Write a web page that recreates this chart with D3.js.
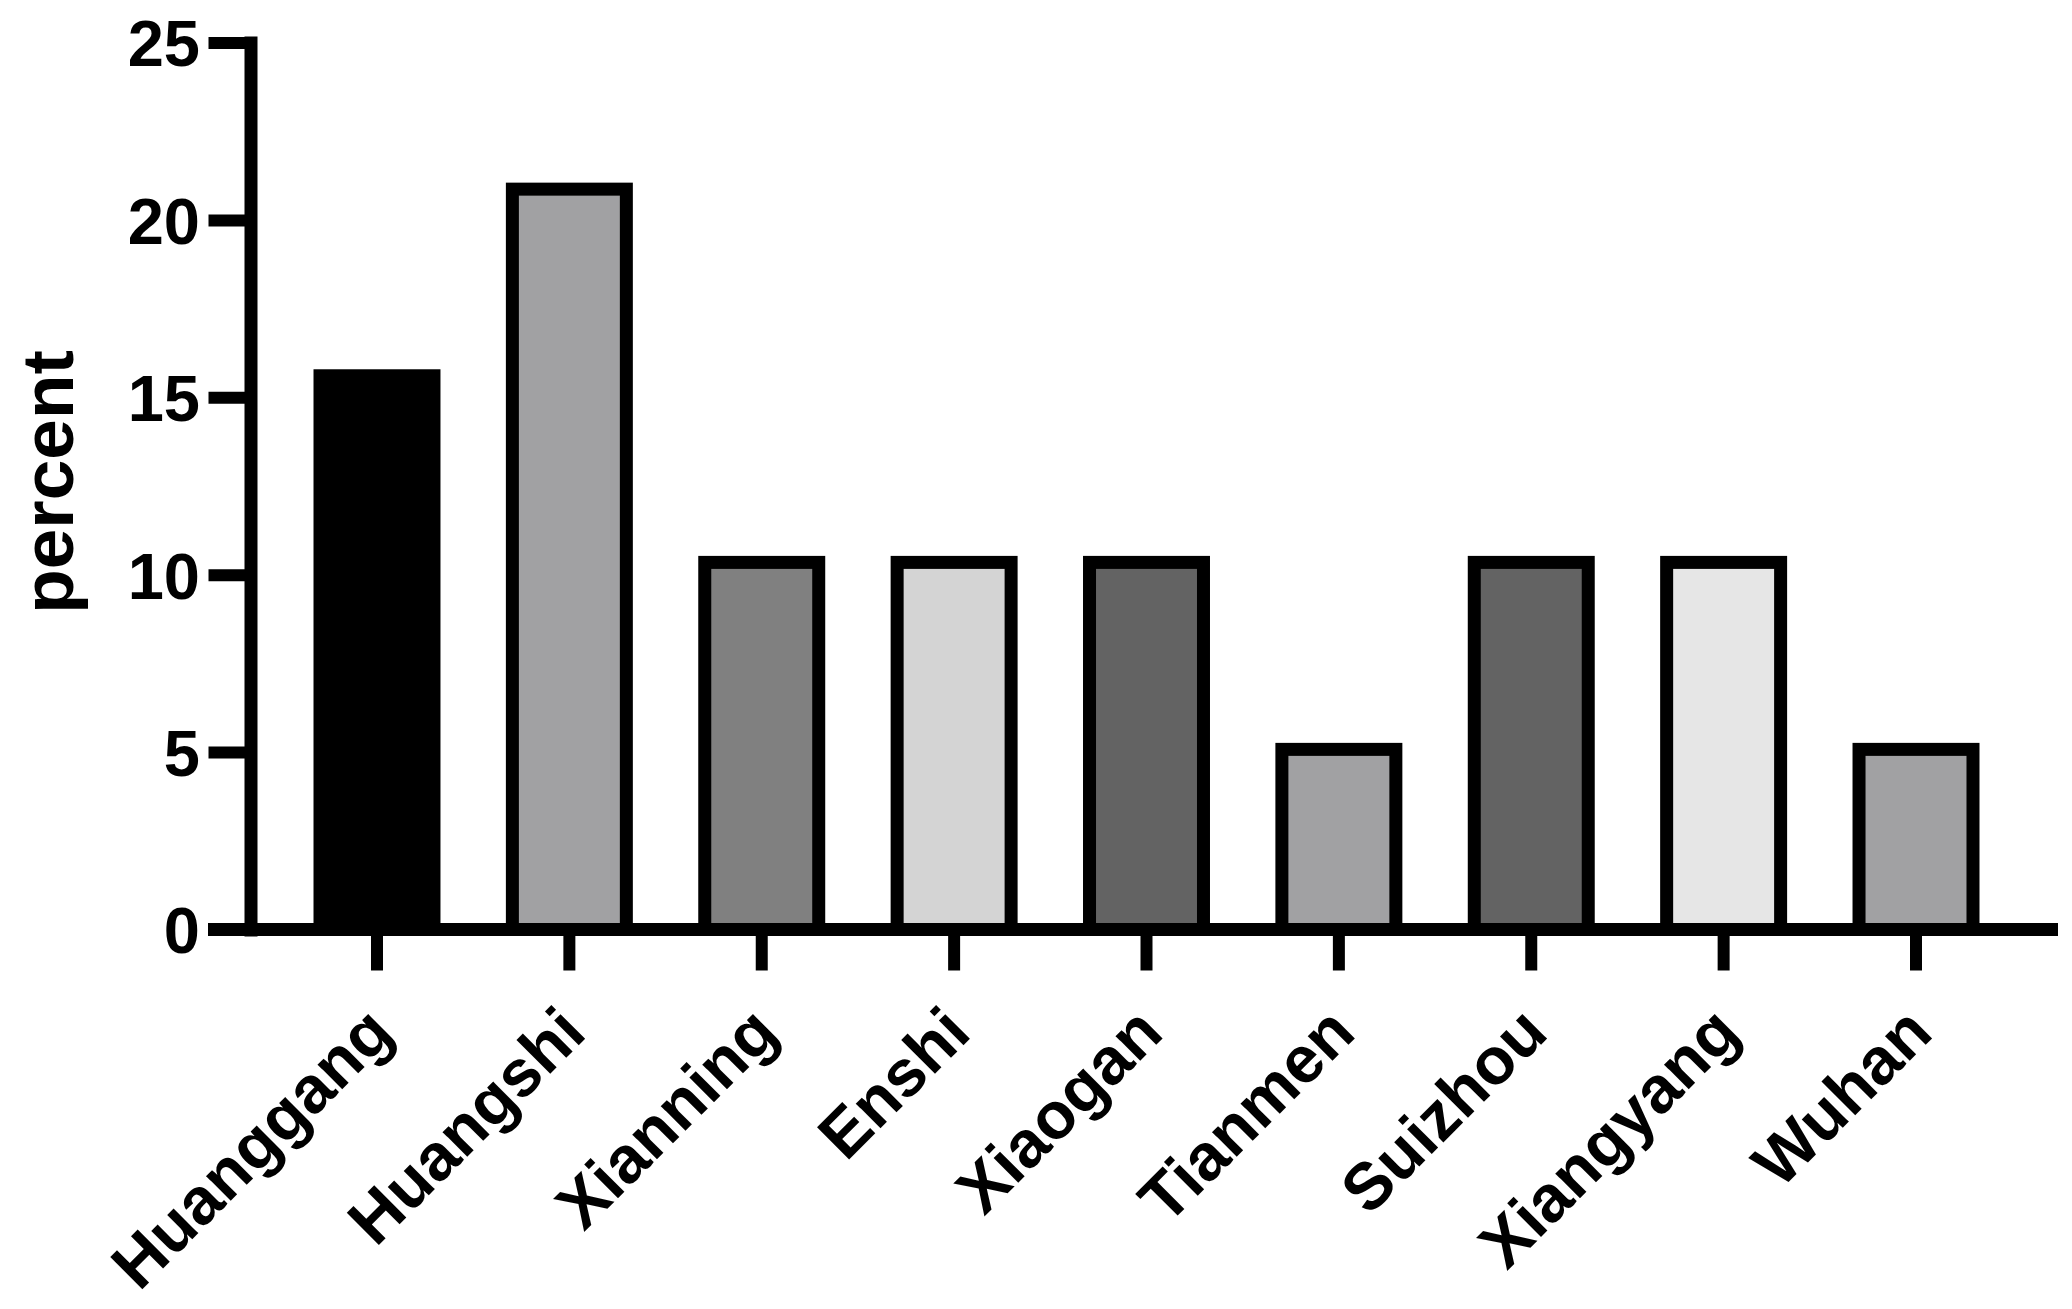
<!DOCTYPE html>
<html>
<head>
<meta charset="utf-8">
<script src="https://cdn.jsdelivr.net/npm/d3@7"></script>
<style>
  html, body { margin: 0; padding: 0; background: #fff; }
  svg { display: block; font-family: "Liberation Sans", Arial, sans-serif; font-weight: bold; }
</style>
</head>
<body>
<svg id="chart" width="2072" height="1309"></svg>
<script>
// ---- data ----
const categories = ["Huanggang", "Huangshi", "Xianning", "Enshi", "Xiaogan", "Tianmen", "Suizhou", "Xiangyang", "Wuhan"];
const percentValues = [15.79, 21.05, 10.53, 10.53, 10.53, 5.26, 10.53, 10.53, 5.26];
const yTickValues = [0, 5, 10, 15, 20, 25];
const yTitle = "percent";
// ---- style ----
const barFills = ["#000000", "#a1a1a3", "#808080", "#d4d4d4", "#636363", "#a1a1a3", "#636363", "#e6e6e6", "#a1a1a3"];

const svg = d3.select("#chart");
const stroke = 13;

const x = d3.scaleBand()
  .domain(categories)
  .range([280.8, 2012.2])
  .paddingInner(0.34)
  .paddingOuter(0.17);

const y = d3.scaleLinear().domain([0, 25]).range([929.5, 42.5]);

// bars
svg.append("g").selectAll("rect")
  .data(categories)
  .join("rect")
  .attr("x", d => x(d) + stroke / 2)
  .attr("width", x.bandwidth() - stroke)
  .attr("y", (d, i) => y(percentValues[i]) + stroke / 2)
  .attr("height", (d, i) => y(0) - y(percentValues[i]) - stroke / 2)
  .attr("fill", (d, i) => barFills[i])
  .attr("stroke", "#000")
  .attr("stroke-width", stroke);

// y axis
const yAxis = svg.append("g")
  .attr("transform", "translate(250.5,0)")
  .call(d3.axisLeft(y).tickValues(yTickValues).tickSize(42).tickSizeOuter(0).tickPadding(8.5).tickFormat(d3.format("d")));
yAxis.select(".domain").attr("stroke", "#000").attr("stroke-width", 13).attr("stroke-linecap", "square");
yAxis.selectAll(".tick line").attr("stroke", "#000").attr("stroke-width", 12);
yAxis.selectAll(".tick text")
  .attr("fill", "#000")
  .attr("dy", "0.36em")
  .style("font-size", "65px")
  .style("font-weight", "bold")
  .style("font-family", "'Liberation Sans', Arial, sans-serif");

// x axis
const xAxis = svg.append("g")
  .attr("transform", "translate(0," + y(0) + ")")
  .call(d3.axisBottom(x).tickSize(41).tickSizeOuter(0));
xAxis.select(".domain").remove();
xAxis.append("line")
  .attr("x1", 208).attr("x2", 2058)
  .attr("y1", 0).attr("y2", 0)
  .attr("stroke", "#000").attr("stroke-width", 13);
xAxis.selectAll(".tick line").attr("stroke", "#000").attr("stroke-width", 12);
xAxis.selectAll(".tick text")
  .attr("fill", "#000")
  .attr("x", 0).attr("y", 0).attr("dy", 0)
  .attr("transform", "translate(19,106) rotate(-45)")
  .style("text-anchor", "end")
  .style("font-size", "66px")
  .style("font-weight", "bold")
  .style("font-family", "'Liberation Sans', Arial, sans-serif");

// y title
svg.append("text")
  .attr("transform", "translate(73,482) rotate(-90)")
  .attr("text-anchor", "middle")
  .style("font-size", "73px")
  .style("font-weight", "bold")
  .attr("fill", "#000")
  .text(yTitle);
</script>
</body>
</html>
